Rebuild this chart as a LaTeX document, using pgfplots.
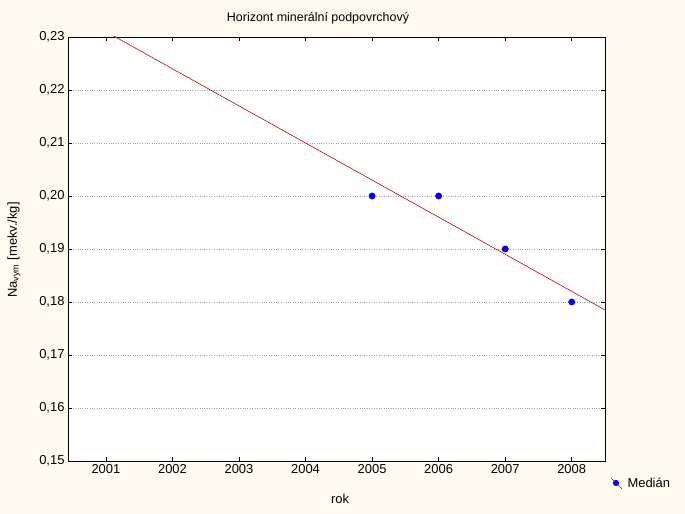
\documentclass[border=0pt]{standalone}
\usepackage{pgfplots}
\pgfplotsset{compat=1.18}
\usepackage{fontspec}
\setmainfont{Liberation Sans}
\definecolor{cream}{RGB}{255,251,240}
\definecolor{fitred}{RGB}{204,0,0}
\definecolor{ptblue}{RGB}{0,0,240}

\begin{document}
\begin{tikzpicture}[x=1bp,y=1bp]
  \fill[cream] (0,0) rectangle (685,514);
  \begin{axis}[
      at={(68bp,53bp)}, anchor=south west,
      scale only axis,
      width=537bp, height=424bp,
      xmin=2000.43, xmax=2008.5,
      ymin=0.15, ymax=0.23,
      xtick={2001,...,2008},
      ytick={0.15,0.16,...,0.23},
      yticklabel style={/pgf/number format/.cd, fixed, fixed zerofill, precision=2, use comma},
      xticklabel style={/pgf/number format/1000 sep={}},
      /pgf/number format/assume math mode=true,
      tick style={black, line width=0.6pt},
      major tick length=4bp,
      tick align=inside,
      ymajorgrids=true,
      grid style={gray!70, dotted, line width=0.6pt},
      axis line style={black, line width=0.9pt},
      axis background/.style={fill=white},
      ticklabel style={font=\fontsize{13}{15}\selectfont},
      clip=true,
  ]
  \addplot[fitred, line width=0.6pt, forget plot] coordinates {(2000.43,0.23499)(2008.5,0.1785)};
  \addplot[only marks, mark=*, mark size=3.2bp, ptblue] coordinates {(2005,0.20)(2006,0.20)(2007,0.19)(2008,0.18)};
  \end{axis}
  \node[font=\fontsize{12.5}{14}\selectfont] at (318,496) {Horizont minerální podpovrchový};
  \node[font=\fontsize{13}{15}\selectfont] at (340,15) {rok};
  \node[font=\fontsize{13}{15}\selectfont, rotate=90] at (14,264) {Na\textsubscript{vym} [mekv./kg]};
  \draw[fitred, line width=0.5pt] (611,36) -- (622,25);
  \fill[ptblue] (616,31) circle (3.1);
  \node[font=\fontsize{13}{15}\selectfont, anchor=west] at (624,31) {Medián};
\end{tikzpicture}
\end{document}
